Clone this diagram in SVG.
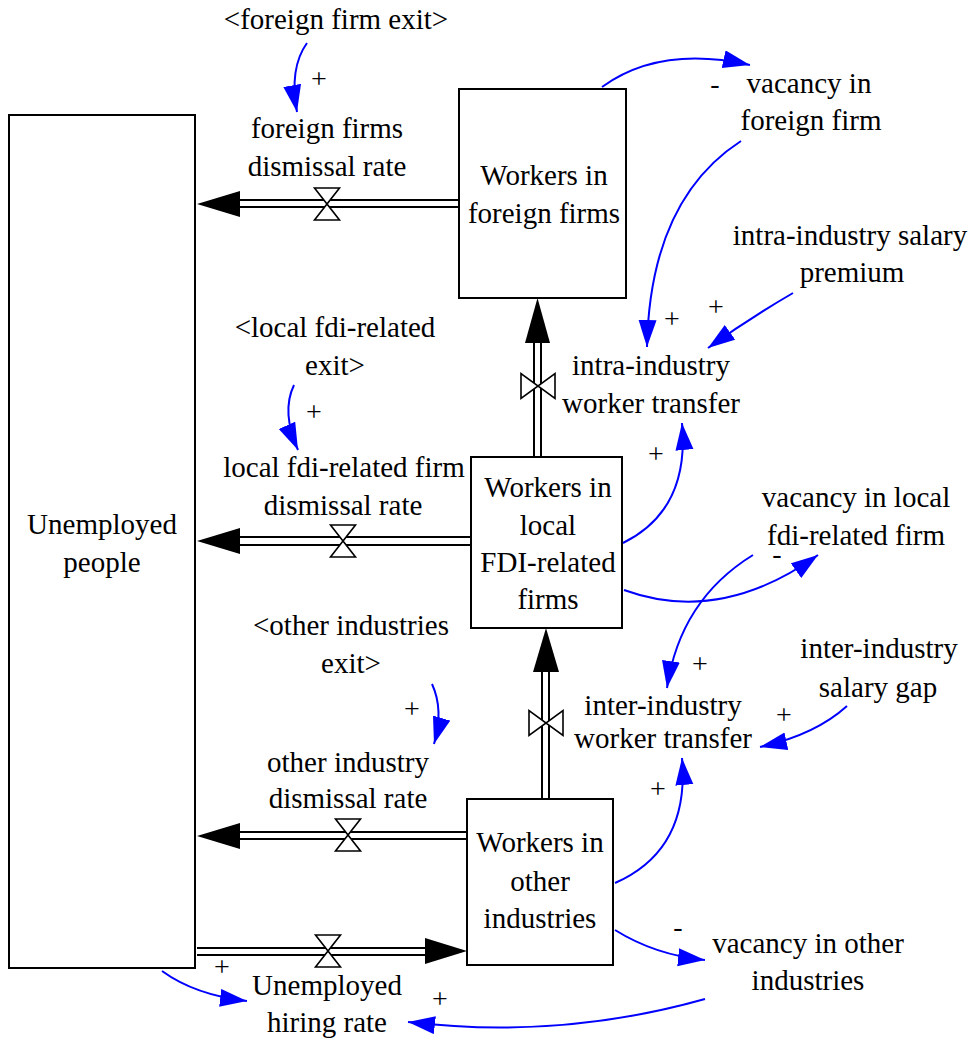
<svg xmlns="http://www.w3.org/2000/svg" width="973" height="1044" viewBox="0 0 973 1044">
<defs>
<style>
text{font-family:"Liberation Serif","Times New Roman",serif;font-size:29px;fill:#000;text-anchor:middle}
.sign{font-size:28px}
.stock{fill:#fff;stroke:#000;stroke-width:2}
.pipe{stroke:#000;stroke-width:2;fill:none}
.head{fill:#000;stroke:none}
.valve{fill:#fff;stroke:#000;stroke-width:1.6;stroke-linejoin:miter}
.link{fill:none;stroke:#0000ff;stroke-width:2;marker-end:url(#ah)}
</style>
<marker id="ah" markerUnits="userSpaceOnUse" markerWidth="30" markerHeight="20" refX="27" refY="9" orient="auto">
<path d="M0,0 L27,9 L0,18 Z" fill="#0000ff"/>
</marker>
</defs>
<rect width="973" height="1044" fill="#fff"/>

<g id="flows">
<g id="foreign-dismissal">
<line class="pipe" x1="238" y1="200" x2="459" y2="200"/>
<line class="pipe" x1="238" y1="207" x2="459" y2="207"/>
<polygon class="head" points="197,204 240,191 240,217"/>
<path class="valve" d="M314.5,188 L339.5,188 L314.5,220 L339.5,220 Z"/>
<text x="327" y="138">foreign firms</text>
<text x="327" y="176">dismissal rate</text>
</g>
<g id="local-dismissal">
<line class="pipe" x1="238" y1="537" x2="471" y2="537"/>
<line class="pipe" x1="238" y1="545" x2="471" y2="545"/>
<polygon class="head" points="197,541 240,528 240,554"/>
<path class="valve" d="M330.5,525 L355.5,525 L330.5,557 L355.5,557 Z"/>
<text x="344" y="477">local fdi-related firm</text>
<text x="343" y="515">dismissal rate</text>
</g>
<g id="other-dismissal">
<line class="pipe" x1="238" y1="832" x2="467" y2="832"/>
<line class="pipe" x1="238" y1="839" x2="467" y2="839"/>
<polygon class="head" points="197,836 240,823 240,849"/>
<path class="valve" d="M335.5,819 L360.5,819 L335.5,851 L360.5,851 Z"/>
<text x="348" y="772">other industry</text>
<text x="348" y="808">dismissal rate</text>
</g>
<g id="hiring">
<line class="pipe" x1="197" y1="948" x2="427" y2="948"/>
<line class="pipe" x1="197" y1="955" x2="427" y2="955"/>
<polygon class="head" points="467,951 425,938 425,964"/>
<path class="valve" d="M315.5,935 L340.5,935 L315.5,967 L340.5,967 Z"/>
<text x="327" y="995">Unemployed</text>
<text x="327" y="1032">hiring rate</text>
</g>
<g id="intra-transfer">
<line class="pipe" x1="534" y1="341" x2="534" y2="457"/>
<line class="pipe" x1="541" y1="341" x2="541" y2="457"/>
<polygon class="head" points="537.5,298 525,343 550,343"/>
<path class="valve" d="M521,373.5 L521,398.5 L555,373.5 L555,398.5 Z"/>
<text x="651" y="375">intra-industry</text>
<text x="651" y="413">worker transfer</text>
</g>
<g id="inter-transfer">
<line class="pipe" x1="542" y1="670" x2="542" y2="799"/>
<line class="pipe" x1="549" y1="670" x2="549" y2="799"/>
<polygon class="head" points="546,628 533,672 559,672"/>
<path class="valve" d="M529,710.5 L529,735.5 L563,710.5 L563,735.5 Z"/>
<text x="663" y="715">inter-industry</text>
<text x="663" y="748">worker transfer</text>
</g>
</g>

<g id="stocks">
<g id="unemployed">
<rect class="stock" x="9" y="115" width="186" height="853"/>
<text x="102" y="534">Unemployed</text>
<text x="102" y="572">people</text>
</g>
<g id="foreign-workers">
<rect class="stock" x="459" y="89" width="167" height="209"/>
<text x="544" y="185">Workers in</text>
<text x="544" y="223">foreign firms</text>
</g>
<g id="local-workers">
<rect class="stock" x="471" y="457" width="151" height="171"/>
<text x="548" y="497">Workers in</text>
<text x="548" y="535">local</text>
<text x="548" y="572">FDI-related</text>
<text x="548" y="609">firms</text>
</g>
<g id="other-workers">
<rect class="stock" x="467" y="799" width="146" height="166"/>
<text x="540" y="852">Workers in</text>
<text x="540" y="891">other</text>
<text x="540" y="928">industries</text>
</g>
</g>

<g id="auxiliaries">
<g id="foreign-exit"><text x="336" y="29">&lt;foreign firm exit&gt;</text></g>
<g id="local-exit"><text x="335" y="337">&lt;local fdi-related</text><text x="335" y="375">exit&gt;</text></g>
<g id="other-exit"><text x="351" y="635">&lt;other industries</text><text x="351" y="673">exit&gt;</text></g>
<g id="vacancy-foreign"><text x="809" y="93">vacancy in</text><text x="811" y="130">foreign firm</text></g>
<g id="intra-premium"><text x="850" y="245">intra-industry salary</text><text x="852" y="282">premium</text></g>
<g id="vacancy-local"><text x="856" y="507">vacancy in local</text><text x="856" y="545">fdi-related firm</text></g>
<g id="inter-gap"><text x="879" y="658">inter-industry</text><text x="878" y="697">salary gap</text></g>
<g id="vacancy-other"><text x="808" y="953">vacancy in other</text><text x="808" y="990">industries</text></g>
</g>

<g id="connectors">
<path class="link" d="M307,43 Q289,68 297,112"/>
<path class="link" d="M602,87 Q660,45 750,65"/>
<path class="link" d="M741,141 Q650,200 647,347"/>
<path class="link" d="M793,293 Q750,318 708,348"/>
<path class="link" d="M623,543 Q690,510 682,423"/>
<path class="link" d="M624,590 Q720,625 818,555"/>
<path class="link" d="M753,555 Q680,600 667,688"/>
<path class="link" d="M847,706 Q815,735 760,747"/>
<path class="link" d="M615,883 Q690,850 682,758"/>
<path class="link" d="M615,930 Q655,955 705,960"/>
<path class="link" d="M705,999 Q560,1040 408,1022"/>
<path class="link" d="M162,971 Q195,995 247,1001"/>
<path class="link" d="M294,385 Q281,412 298,450"/>
<path class="link" d="M432,684 Q444,710 434,744"/>
<g id="polarities">
<text class="sign" x="319" y="88">+</text>
<text class="sign" x="715" y="93">-</text>
<text class="sign" x="716" y="316">+</text>
<text class="sign" x="672" y="328">+</text>
<text class="sign" x="656" y="463">+</text>
<text class="sign" x="777" y="563">-</text>
<text class="sign" x="700" y="673">+</text>
<text class="sign" x="784" y="724">+</text>
<text class="sign" x="658" y="798">+</text>
<text class="sign" x="678" y="936">-</text>
<text class="sign" x="440" y="1008">+</text>
<text class="sign" x="222" y="976">+</text>
<text class="sign" x="314" y="421">+</text>
<text class="sign" x="412" y="718">+</text>
</g>
</g>
</svg>
